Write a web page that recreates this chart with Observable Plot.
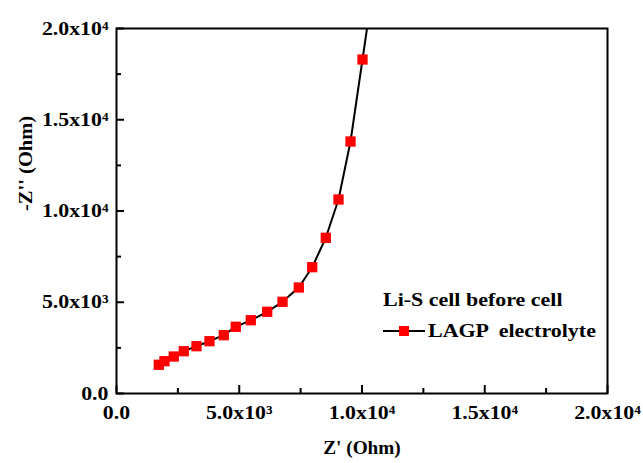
<!DOCTYPE html>
<html>
<head>
<meta charset="utf-8">
<script src="https://cdn.jsdelivr.net/npm/d3@7"></script>
<script src="https://cdn.jsdelivr.net/npm/@observablehq/plot@0.6"></script>
<style>
  body { margin: 0; background: #fff; }
  #chart {
    position: relative; width: 643px; height: 463px;
    font-family: "Liberation Serif", "Times New Roman", serif; font-weight: bold; color: #000;
  }
  #legend { position: absolute; left: 383px; top: 289px; font-size: 18px; line-height: 22px; }
  #legend .row { display: flex; align-items: center; margin-top: 9px; }
  #legend .label { display: inline-block; white-space: pre; transform: scaleX(1.22); transform-origin: left center; }
  #legend .name { margin-left: 3px; }
</style>
</head>
<body>
<div id="chart"></div>
<script>
// Impedance spectrum (Nyquist plot) of the Li-S cell with LAGP electrolyte
const zReal = [1723, 1955, 2334, 2741, 3259, 3788, 4371, 4859, 5470, 6138, 6762, 7426, 7971, 8526, 9043, 9532, 10020, 10680];
const zImag = [1573, 1770, 2027, 2318, 2592, 2866, 3195, 3655, 4016, 4477, 5025, 5808, 6921, 8532, 10630, 13808, 18301, 24400];

const majorTicks = [0, 5000, 10000, 15000, 20000];
const minorTicks = [2500, 7500, 12500, 17500];
const xTickLabels = ["0.0", "5.0x10³", "1.0x10⁴", "1.5x10⁴", "2.0x10⁴"];
const yTickLabels = ["0.0", "5.0x10³", "1.0x10⁴", "1.5x10⁴", "2.0x10⁴"];

const xTitle = "Z' (Ohm)";
const yTitle = "-Z'' (Ohm)";
const legendTitle = "Li-S cell before cell";
const seriesName = "LAGP  electrolyte";
const seriesColor = "#ff0000";

const points = zReal.map((x, i) => ({x, y: zImag[i]}));

const width = 643, height = 463;
const margin = {top: 28, right: 36, bottom: 70, left: 116};
const frameW = width - margin.left - margin.right;
const frameH = height - margin.top - margin.bottom;
const xDomain = [0, 20000];
const yDomain = [0, 20000];

// inward ticks: short rules standing on each axis, length given in pixels
const xTicksIn = (values, len) => Plot.ruleX(values, {
  x: d => d, y1: yDomain[0], y2: yDomain[0] + (yDomain[1] - yDomain[0]) * len / frameH,
  stroke: "#000", strokeWidth: 2
});
const yTicksIn = (values, len) => Plot.ruleY(values, {
  y: d => d, x1: xDomain[0], x2: xDomain[0] + (xDomain[1] - xDomain[0]) * len / frameW,
  stroke: "#000", strokeWidth: 2
});

const plot = Plot.plot({
  width, height,
  marginLeft: margin.left,
  marginRight: margin.right,
  marginTop: margin.top,
  marginBottom: margin.bottom,
  style: {fontFamily: "'Liberation Serif', 'Times New Roman', serif", fontWeight: "bold", fontSize: "19px", color: "#000", background: "#fff"},
  x: {domain: xDomain},
  y: {domain: yDomain},
  marks: [
    Plot.line(points, {x: "x", y: "y", stroke: "#000", strokeWidth: 2, clip: true}),
    Plot.dot(points, {x: "x", y: "y", symbol: "square", r: 5.8, fill: seriesColor, clip: true}),
    xTicksIn(majorTicks, 8),
    xTicksIn(minorTicks, 5),
    yTicksIn(majorTicks, 8),
    yTicksIn(minorTicks, 5),
    Plot.frame({stroke: "#000", strokeWidth: 2}),
    Plot.axisX(majorTicks, {tickSize: 0, tickPadding: 12, tickFormat: (d, i) => xTickLabels[i], label: null}),
    Plot.axisY(majorTicks, {tickSize: 0, tickPadding: 8, tickFormat: (d, i) => yTickLabels[i], label: null}),
    Plot.text([xTitle], {text: d => d, frameAnchor: "bottom", dy: 60, fontSize: 18}),
    Plot.text([yTitle], {text: d => d, frameAnchor: "left", dx: -91, rotate: -90, fontSize: 19})
  ]
});

const chart = document.getElementById("chart");
chart.appendChild(plot);

// widen the serif labels horizontally, as in the printed figure
const stretch = {tick: 1.15, xTitle: 1.07, yTitle: 1.08};
d3.select(plot).selectAll("text").each(function() {
  const t = this.textContent;
  const f = t === xTitle ? stretch.xTitle : t === yTitle ? stretch.yTitle : stretch.tick;
  const len = this.getComputedTextLength();
  this.setAttribute("textLength", (len * f).toFixed(1));
  this.setAttribute("lengthAdjust", "spacingAndGlyphs");
});

// legend inside the plot area
const legend = document.createElement("div");
legend.id = "legend";
legend.innerHTML = `<div><span class="label">${legendTitle}</span></div>
  <div class="row">
    <svg width="42" height="12"><line x1="0" x2="42" y1="6" y2="6" stroke="#000" stroke-width="2"/><rect x="16" y="1" width="10" height="10" fill="${seriesColor}"/></svg>
    <span class="label name">${seriesName}</span>
  </div>`;
chart.appendChild(legend);
</script>
</body>
</html>
